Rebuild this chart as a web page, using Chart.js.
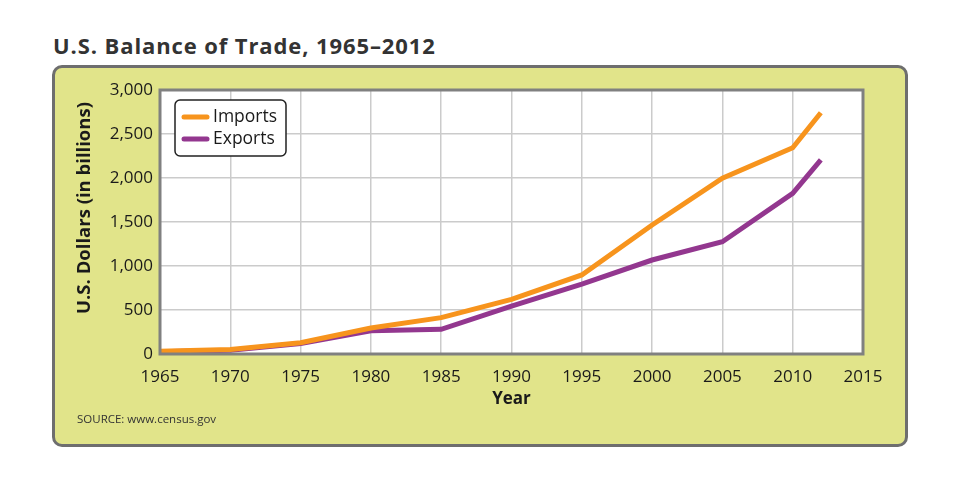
<!DOCTYPE html>
<html lang="en">
<head>
<meta charset="UTF-8">
<script src="https://cdn.jsdelivr.net/npm/chart.js"></script>
<title>U.S. Balance of Trade, 1965–2012</title>
<style>
  html, body { margin: 0; padding: 0; background: #fff; }
  body { width: 960px; height: 485px; position: relative; font-family: "Open Sans", sans-serif; }
  h1 { position: absolute; left: 53px; top: 31px; margin: 0; font-size: 22px; font-weight: 700; color: #333; line-height: 28px; letter-spacing: 0.9px; }
  .panel { position: absolute; left: 52px; top: 65px; width: 850px; height: 376px; background: #e1e48a; border: 3px solid #6e6e6e; border-radius: 10px; }
  .wrap { position: absolute; left: 1px; top: 1px; width: 848px; height: 374px; }
  .source { position: absolute; left: 22px; top: 343px; font-size: 11.5px; color: #333; }
</style>
</head>
<body>
<h1>U.S. Balance of Trade, 1965–2012</h1>
<div class="panel">
  <div class="wrap"><canvas id="trade" width="848" height="374"></canvas></div>
  <div class="source">SOURCE: www.census.gov</div>
</div>
<script>
// values, billions of dollars
const years = [1965, 1970, 1975, 1980, 1985, 1990, 1995, 2000, 2005, 2010, 2012];
const imports = [30, 50, 128, 295, 413, 620, 898, 1466, 1997, 2344, 2742];
const exports = [26, 43, 120, 265, 280, 545, 795, 1068, 1276, 1826, 2205];
const yTicks = [0, 500, 1000, 1500, 2000, 2500, 3000];
const yTitle = 'U.S. Dollars (in billions)';

const toPoints = vals => vals.map((v, i) => ({ x: years[i], y: v }));

// white plot area plus grey frame
const plotFrame = {
  id: 'plotFrame',
  beforeDraw(chart) {
    const { ctx, chartArea: a } = chart;
    ctx.save();
    ctx.fillStyle = '#fff';
    ctx.fillRect(a.left, a.top, a.width, a.height);
    ctx.restore();
  },
  afterDraw(chart) {
    const { ctx, chartArea: a } = chart;
    ctx.save();
    ctx.strokeStyle = '#808080';
    ctx.lineWidth = 3;
    ctx.strokeRect(a.left, a.top, a.width, a.height);
    // y title sits a bit above the plot's middle in the original
    ctx.translate(29, a.top + a.height / 2 - 14);
    ctx.rotate(-Math.PI / 2);
    ctx.font = 'bold 18.5px "Open Sans", sans-serif';
    ctx.fillStyle = '#1a1a1a';
    ctx.textAlign = 'center';
    ctx.textBaseline = 'middle';
    ctx.fillText(yTitle, 0, 0);
    ctx.restore();
  }
};

// boxed legend sitting inside the plot, top left
const boxLegend = {
  id: 'boxLegend',
  afterDraw(chart) {
    const { ctx, chartArea: a } = chart;
    const x = a.left + 15, y = a.top + 10, w = 111, h = 56;
    ctx.save();
    ctx.beginPath();
    ctx.roundRect(x, y, w, h, 5);
    ctx.fillStyle = '#fff';
    ctx.fill();
    ctx.lineWidth = 1.5;
    ctx.strokeStyle = '#222';
    ctx.stroke();
    ctx.font = '17.5px "Open Sans", sans-serif';
    ctx.textBaseline = 'middle';
    chart.data.datasets.forEach((ds, i) => {
      const ly = y + 17 + i * 22;
      ctx.beginPath();
      ctx.moveTo(x + 9, ly);
      ctx.lineTo(x + 32, ly);
      ctx.lineWidth = 5;
      ctx.lineCap = 'round';
      ctx.strokeStyle = ds.borderColor;
      ctx.stroke();
      ctx.fillStyle = '#1a1a1a';
      ctx.fillText(ds.label, x + 38, ly);
    });
    ctx.restore();
  }
};

new Chart(document.getElementById('trade'), {
  type: 'line',
  data: {
    datasets: [
      { label: 'Imports', data: toPoints(imports), borderColor: '#f7941d', borderWidth: 5, pointRadius: 0, tension: 0 },
      { label: 'Exports', data: toPoints(exports), borderColor: '#93378f', borderWidth: 5, pointRadius: 0, tension: 0 }
    ]
  },
  options: {
    responsive: false,
    animation: false,
    devicePixelRatio: 1,
    layout: { padding: { left: 20, right: 41, top: 21, bottom: 34 } },
    plugins: { legend: { display: false }, tooltip: { enabled: false } },
    scales: {
      x: {
        type: 'linear',
        min: 1965, max: 2015,
        ticks: { stepSize: 5, maxRotation: 0, color: '#1a1a1a', font: { family: 'Open Sans', size: 17 }, callback: v => String(v), padding: 13 },
        grid: { color: '#cbcbcb', lineWidth: 1.5, drawTicks: false },
        border: { display: false },
        title: { display: true, text: 'Year', color: '#1a1a1a', font: { family: 'Open Sans', size: 17, weight: 'bold' }, padding: 0 },
        afterFit(s) { s.height = 55; }
      },
      y: {
        min: 0, max: 3000,
        afterBuildTicks(s) {
          // grid every 250, labels only on the named values
          s.ticks = [];
          for (let v = 0; v <= 3000; v += 250) s.ticks.push({ value: v });
        },
        ticks: {
          color: '#1a1a1a', font: { family: 'Open Sans', size: 17 }, padding: 7,
          callback: v => yTicks.includes(v) ? v.toLocaleString('en-US') : ''
        },
        grid: { color: '#cbcbcb', lineWidth: 1.5, drawTicks: false },
        border: { display: false },
        afterFit(s) { s.width = 84; }
      }
    }
  },
  plugins: [plotFrame, boxLegend]
});
</script>
</body>
</html>
